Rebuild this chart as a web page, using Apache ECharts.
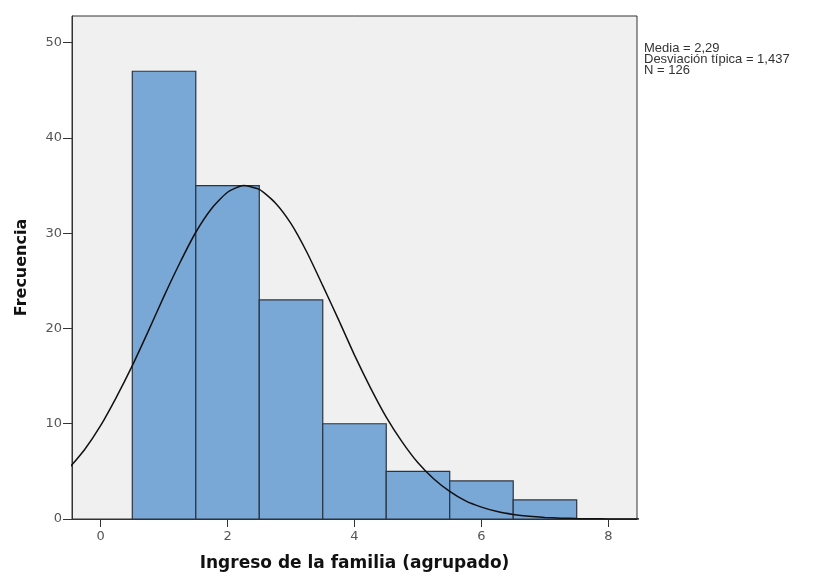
<!DOCTYPE html>
<html>
<head>
<meta charset="utf-8">
<script src="https://cdn.jsdelivr.net/npm/echarts@6/dist/echarts.min.js"></script>
<style>
  html, body { margin: 0; padding: 0; background: #fff; }
  #chart { width: 813px; height: 574px; }
</style>
</head>
<body>
<div id="chart"></div>
<script>
// datos del histograma
var binCenters = [1, 2, 3, 4, 5, 6, 7];
var frecuencias = [47, 35, 23, 10, 5, 4, 2];
var curvaX = [-0.5, -0.25, 0, 0.25, 0.5, 0.75, 1, 1.25, 1.5, 1.75, 2, 2.25, 2.5, 2.75, 3, 3.25, 3.5, 3.75,
  4, 4.25, 4.5, 4.75, 5, 5.25, 5.5, 5.75, 6, 6.25, 6.5, 6.75, 7, 7.25, 7.5, 7.75, 8, 8.25, 8.5];
var curvaY = [5.3, 7.3, 9.8, 12.8, 16.1, 19.7, 23.4, 26.9, 30.1, 32.6, 34.3, 35.0, 34.6, 33.2, 31.0, 28.0, 24.5, 20.9,
  17.2, 13.8, 10.7, 8.1, 5.9, 4.2, 2.9, 1.9, 1.25, 0.78, 0.48, 0.28, 0.16, 0.09, 0.05, 0.03, 0.01, 0, 0];
var xTicks = [0, 2, 4, 6, 8];
var yTicks = [0, 10, 20, 30, 40, 50];
var estadisticos = ["Media = 2,29", "Desviación típica = 1,437", "N = 126"];

var chart = echarts.init(document.getElementById("chart"));

var barras = binCenters.map(function (c, i) { return [c, frecuencias[i]]; });
var curva = curvaX.map(function (x, i) { return [x, curvaY[i]]; });

var option = {
  animation: false,
  backgroundColor: "#ffffff",
  textStyle: { fontFamily: "DejaVu Sans, Verdana, sans-serif" },
  grid: {
    left: 72, right: 176, top: 16, bottom: 55,
    outerBoundsMode: "none",
    show: true, backgroundColor: "#f0f0f0", borderColor: "#333", borderWidth: 1
  },
  xAxis: {
    type: "value", min: -0.45, max: 8.45,
    name: "Ingreso de la familia (agrupado)",
    nameLocation: "middle", nameGap: 36,
    nameTextStyle: { fontSize: 17, fontWeight: "bold", color: "#111", fontFamily: "DejaVu Sans" },
    axisLine: { show: true, onZero: false, lineStyle: { color: "#333" } },
    axisTick: { show: true, length: 8, lineStyle: { color: "#333" },
      customValues: xTicks },
    axisLabel: { color: "#555", fontSize: 13, margin: 11, customValues: xTicks },
    splitLine: { show: false }
  },
  yAxis: {
    type: "value", min: 0, max: 52.8,
    name: "Frecuencia",
    nameLocation: "middle", nameGap: 42,
    nameTextStyle: { fontSize: 16, fontWeight: "bold", color: "#111", fontFamily: "DejaVu Sans" },
    axisLine: { show: true, onZero: false, lineStyle: { color: "#333" } },
    axisTick: { show: true, length: 9, lineStyle: { color: "#333" },
      customValues: yTicks },
    axisLabel: { color: "#555", fontSize: 13, margin: 10, customValues: yTicks },
    splitLine: { show: false }
  },
  graphic: estadisticos.map(function (t, i) {
    return {
      type: "text", left: 644, top: 42 + i * 11,
      style: { text: t, fontSize: 13, fill: "#333",
        fontFamily: "Liberation Sans, Arial, sans-serif" }
    };
  }),
  series: [
    {
      type: "custom",
      data: barras,
      renderItem: function (params, api) {
        var c = api.value(0), v = api.value(1);
        var p0 = api.coord([c - 0.5, v]);
        var p1 = api.coord([c + 0.5, 0]);
        return {
          type: "rect",
          shape: { x: p0[0], y: p0[1], width: p1[0] - p0[0], height: p1[1] - p0[1] },
          style: { fill: "#79a7d6", stroke: "#2b3440", lineWidth: 1.2 }
        };
      },
      z: 2
    },
    {
      type: "line",
      data: curva,
      smooth: 0.2,
      symbol: "none",
      clip: true,
      lineStyle: { color: "#111", width: 1.5 },
      z: 3
    }
  ]
};

chart.setOption(option);
</script>
</body>
</html>
